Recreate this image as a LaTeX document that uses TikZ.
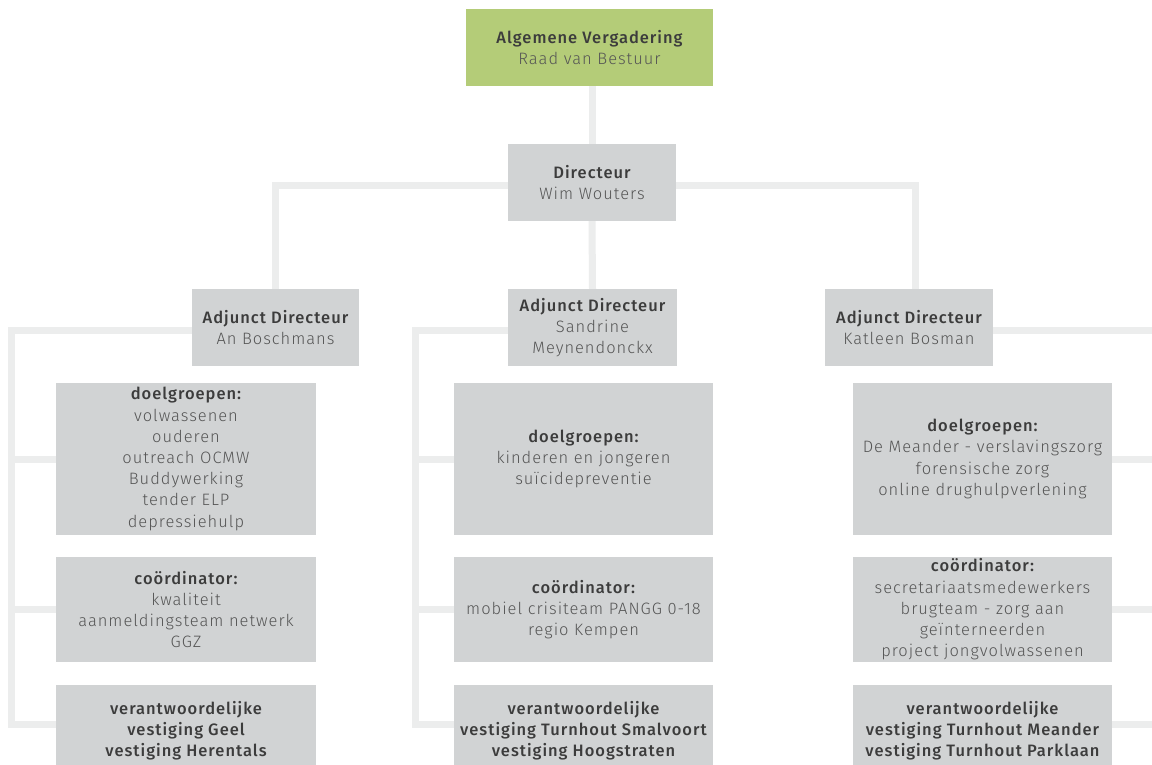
\documentclass[tikz,border=0pt]{standalone}
\usepackage{fontspec}
\usetikzlibrary{backgrounds}
\setmainfont{Fira Sans}[UprightFont={* Light},BoldFont={* Medium},LetterSpace=6]
\definecolor{boxgreen}{HTML}{B4CC78}
\definecolor{boxgray}{HTML}{D1D3D4}
\definecolor{linegray}{HTML}{ECEDED}
\definecolor{txtdark}{HTML}{3C3C3C}
\definecolor{txtlight}{HTML}{555555}
\newcommand\hd[1]{{\bfseries\color{txtdark}#1}}
\begin{document}
\begin{tikzpicture}[x=1pt,y=-1pt,
  box/.style={fill=boxgray, inner sep=0pt, align=center, text=txtlight,
    font=\fontsize{16.5}{21.2}\selectfont},
  conn/.style={draw=linegray, line width=7pt, line join=miter}]
\useasboundingbox (0,0) rectangle (1152,765);
\clip (0,0) rectangle (1152,765);

% coordinates for connectors
\coordinate (hL) at (275.5,186);
\coordinate (hR) at (915,186);
\coordinate (lT) at (11.5,330);
\coordinate (lB) at (11.5,724.5);
\coordinate (mT) at (415,330);
\coordinate (mB) at (415,724.5);
\coordinate (rT) at (1160,330);

\path
  (589.5,47.5) node[box, fill=boxgreen, minimum width=247, minimum height=77] (top)
    {\hd{Algemene Vergadering}\\Raad van Bestuur}
  (592,182.5) node[box, minimum width=168, minimum height=77] (dir)
    {\hd{Directeur}\\Wim Wouters}
  (275.5,327.5) node[box, minimum width=167, minimum height=77] (adjL)
    {\hd{Adjunct Directeur}\\An Boschmans}
  (592.5,327.5) node[box, minimum width=169, minimum height=77] (adjM)
    {\hd{Adjunct Directeur}\\Sandrine\\Meynendonckx}
  (909,327.5) node[box, minimum width=168, minimum height=77] (adjR)
    {\hd{Adjunct Directeur}\\Katleen Bosman}
  (186,459) node[box, minimum width=260, minimum height=152] (dgL)
    {\hd{doelgroepen:}\\volwassenen\\ouderen\\outreach OCMW\\Buddywerking\\tender ELP\\depressiehulp}
  (186,609.5) node[box, minimum width=260, minimum height=105] (coL)
    {\hd{coördinator:}\\kwaliteit\\aanmeldingsteam netwerk\\GGZ}
  (186,731) node[box, minimum width=260, minimum height=92] (vL)
    {\hd{verantwoordelijke}\\\hd{vestiging Geel}\\\hd{vestiging Herentals}}
  (583.5,459) node[box, minimum width=259, minimum height=152] (dgM)
    {\hd{doelgroepen:}\\kinderen en jongeren\\suïcidepreventie}
  (583.5,609.5) node[box, minimum width=259, minimum height=105] (coM)
    {\hd{coördinator:}\\mobiel crisiteam PANGG 0-18\\regio Kempen}
  (583.5,731) node[box, minimum width=259, minimum height=92] (vM)
    {\hd{verantwoordelijke}\\\hd{vestiging Turnhout Smalvoort}\\\hd{vestiging Hoogstraten}}
  (982.5,459) node[box, minimum width=259, minimum height=152] (dgR)
    {\hd{doelgroepen:}\\De Meander - verslavingszorg\\forensische zorg\\online drughulpverlening}
  (982.5,609.5) node[box, minimum width=259, minimum height=105] (coR)
    {\hd{coördinator:}\\secretariaatsmedewerkers\\brugteam - zorg aan\\geïnterneerden\\project jongvolwassenen}
  (982.5,731) node[box, minimum width=259, minimum height=92] (vR)
    {\hd{verantwoordelijke}\\\hd{vestiging Turnhout Meander}\\\hd{vestiging Turnhout Parklaan}};

\begin{scope}[on background layer]
\fill[white] (0,0) rectangle (1152,765);
% connectors
\draw[conn] (dir.north |- top.south) -- (dir.north);
\draw[conn] (adjL.north) -- (hL) -- (hR) -- (hR |- adjR.north);
\draw[conn] (dir.south) -- (adjM.north);
% left bracket
\draw[conn] (adjL.west |- lT) -- (lT) -- (lB) -- (vL.west |- lB);
\draw[conn] (lT |- dgL.west) -- (dgL.west);
\draw[conn] (lT |- coL.west) -- (coL.west);
% middle bracket
\draw[conn] (adjM.west |- mT) -- (mT) -- (mB) -- (vM.west |- mB);
\draw[conn] (mT |- dgM.west) -- (dgM.west);
\draw[conn] (mT |- coM.west) -- (coM.west);
% right side
\draw[conn] (adjR.east |- rT) -- (rT);
\draw[conn] (dgR.east) -- (dgR.east -| rT);
\draw[conn] (coR.east) -- (coR.east -| rT);
\draw[conn] (vR.east |- lB) -- (rT |- lB);
\end{scope}
\end{tikzpicture}
\end{document}
